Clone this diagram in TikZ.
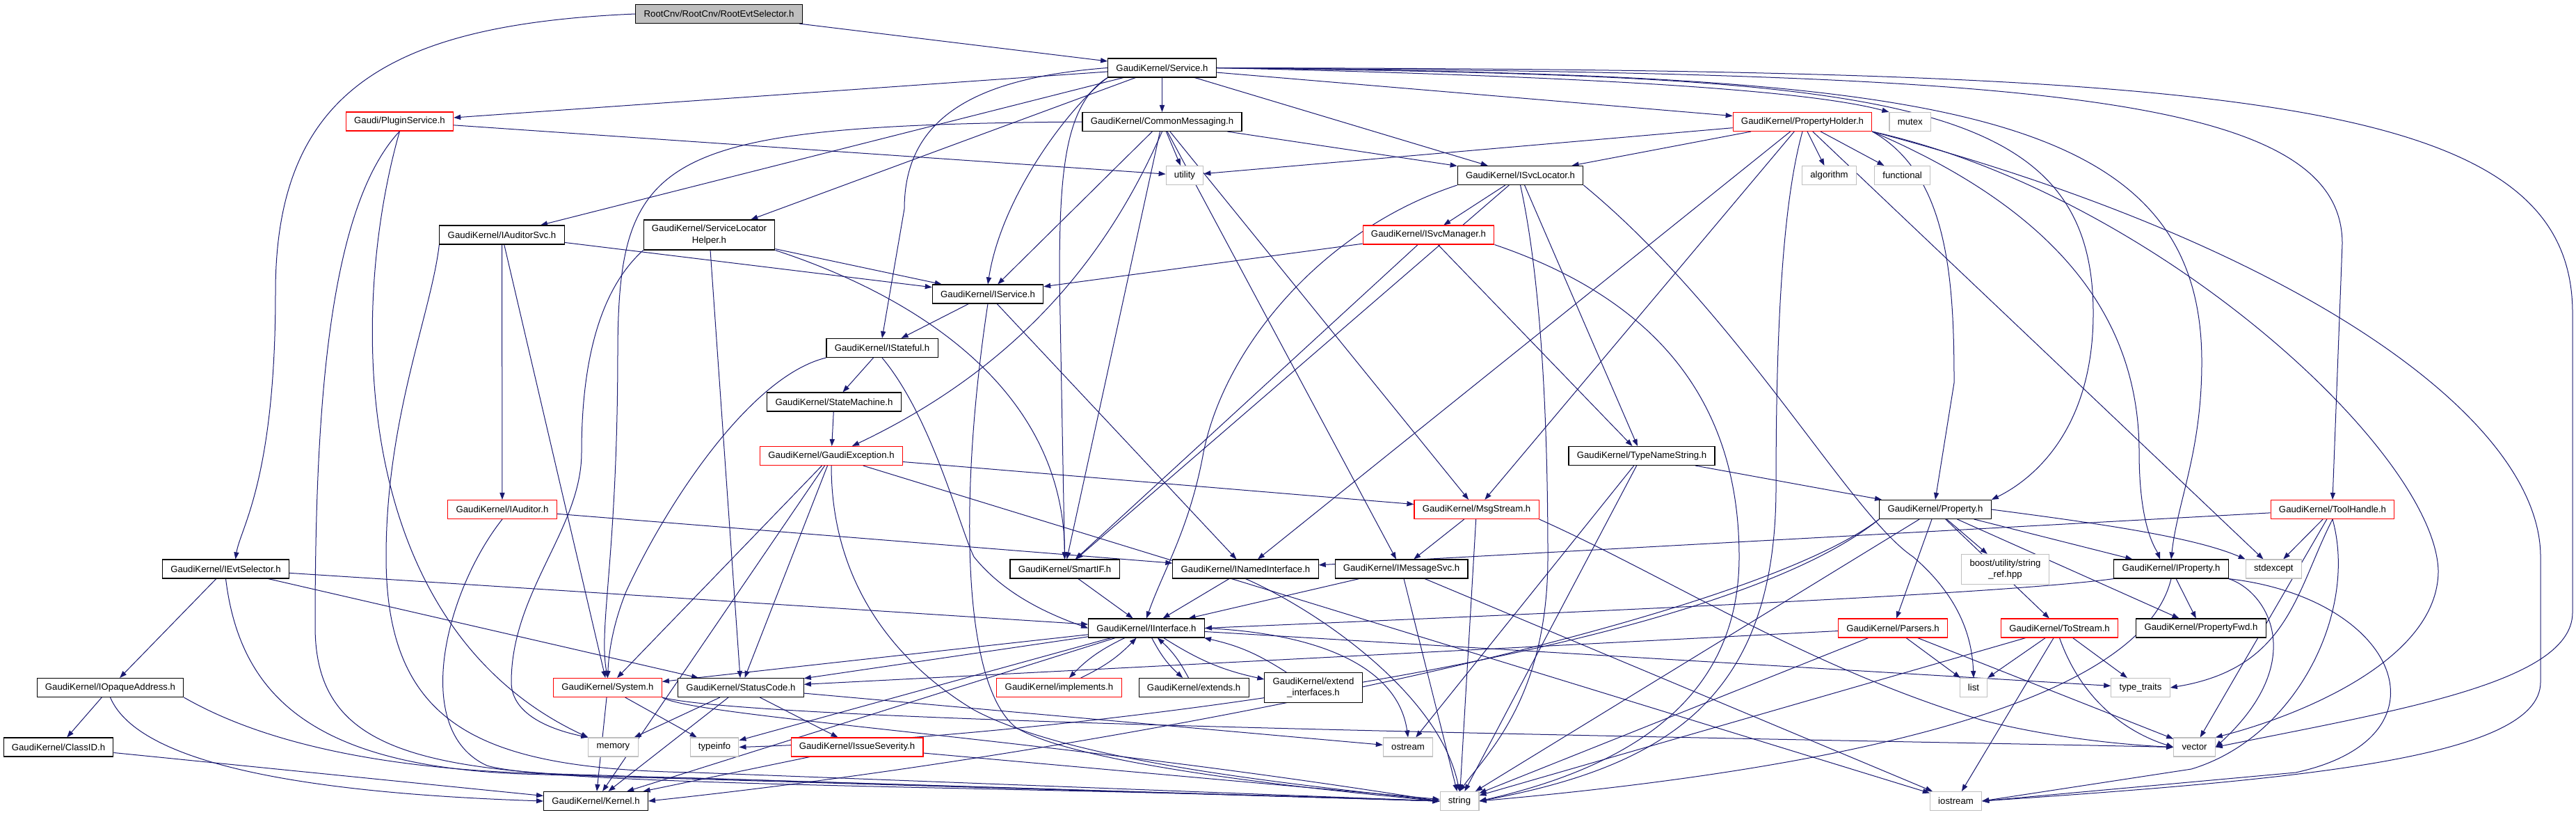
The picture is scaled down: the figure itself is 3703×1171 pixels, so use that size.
\documentclass[tikz,border=0pt]{standalone}
\usepackage{fontspec}
\setmainfont{Liberation Sans}
\usetikzlibrary{arrows.meta,positioning}
\definecolor{navyline}{HTML}{191970}
\definecolor{sysgray}{HTML}{BFBFBF}
\pgfdeclarelayer{back}
\pgfsetlayers{back,main}
\tikzset{
  hdr/.style={rectangle,draw=black,fill=white,line width=0.55pt,
    font=\fontsize{6.6}{8.3}\selectfont,inner xsep=5.9pt,inner ysep=0pt,
    minimum height=13.5pt,align=center},
  hdrred/.style={hdr,draw=red},
  hdrstd/.style={hdr,draw=sysgray},
  hdrtop/.style={hdr,fill=sysgray},
  twoline/.style={minimum height=21.5pt},
  incl/.style={draw=navyline,line width=0.5pt,-{Triangle[length=5pt,width=3.6pt]}}
}
\begin{document}
\begin{tikzpicture}[x=0.5pt,y=-0.5pt]
	\useasboundingbox (0,0) rectangle (3703,1171);
	\node [hdrtop] (rootsel) at (1033.5,20) {RootCnv/RootCnv/RootEvtSelector.h};
	\node [hdr] (service) at (1670.5,97.5) {GaudiKernel/Service.h};
	\node [hdrred] (pluginsvc) at (574.5,174.5) {Gaudi/PluginService.h};
	\node [hdr] (commonmsg) at (1670.5,175) {GaudiKernel/CommonMessaging.h};
	\node [hdrred] (propholder) at (2591,175) {GaudiKernel/PropertyHolder.h};
	\node [hdrstd,anchor=west] (mutex) at ([xshift=12pt]propholder.east) {mutex};
	\node [hdrstd] (utility) at (1703,252) {utility};
	\node [hdr] (svclocator) at (2185.5,252) {GaudiKernel/ISvcLocator.h};
	\node [hdrstd] (algorithm) at (2629.5,252) {algorithm};
	\node [hdrstd,anchor=west] (functional) at ([xshift=12.5pt]algorithm.east) {functional};
	\node [hdr] (auditorsvc) at (721.5,337.5) {GaudiKernel/IAuditorSvc.h};
	\node [hdr,twoline] (locatorhelper) at (1019.5,337.5) {GaudiKernel/ServiceLocator\\Helper.h};
	\node [hdrred] (svcmanager) at (2053.5,337.5) {GaudiKernel/ISvcManager.h};
	\node [hdr] (iservice) at (1420,422.5) {GaudiKernel/IService.h};
	\node [hdr] (stateful) at (1268,500) {GaudiKernel/IStateful.h};
	\node [hdr] (statemachine) at (1199,577.5) {GaudiKernel/StateMachine.h};
	\node [hdrred] (gaudiexc) at (1195,655) {GaudiKernel/GaudiException.h};
	\node [hdr] (typename) at (2360,655) {GaudiKernel/TypeNameString.h};
	\node [hdrred] (auditor) at (722,732) {GaudiKernel/IAuditor.h};
	\node [hdrred] (msgstream) at (2122.5,732) {GaudiKernel/MsgStream.h};
	\node [hdr] (property) at (2782,732) {GaudiKernel/Property.h};
	\node [hdrred] (toolhandle) at (3353,732) {GaudiKernel/ToolHandle.h};
	\node [hdr] (evtselector) at (324.5,817.5) {GaudiKernel/IEvtSelector.h};
	\node [hdr] (smartif) at (1530.5,817.5) {GaudiKernel/SmartIF.h};
	\node [hdr] (namedif) at (1790.5,817.5) {GaudiKernel/INamedInterface.h};
	\node [hdr] (msgsvc) at (2014.5,817.5) {GaudiKernel/IMessageSvc.h};
	\node [hdrstd,twoline] (stringref) at (2882.5,818) {boost/utility/string\\\_ref.hpp};
	\node [hdr] (iproperty) at (3121,817.5) {GaudiKernel/IProperty.h};
	\node [hdrstd,anchor=west] (stdexcept) at ([xshift=12pt]iproperty.east) {stdexcept};
	\node [hdr] (interface) at (1648,902.5) {GaudiKernel/IInterface.h};
	\node [hdrred] (parsers) at (2721,902.5) {GaudiKernel/Parsers.h};
	\node [hdrred] (tostream) at (2960.5,902.5) {GaudiKernel/ToStream.h};
	\node [hdr,anchor=west] (propfwd) at ([xshift=12.5pt]tostream.east) {GaudiKernel/PropertyFwd.h};
	\node [hdr] (opaqueaddr) at (158.5,988) {GaudiKernel/IOpaqueAddress.h};
	\node [hdrred] (system) at (873.5,988) {GaudiKernel/System.h};
	\node [hdr] (statuscode) at (1065,988) {GaudiKernel/StatusCode.h};
	\node [hdrred] (implements) at (1522.5,988) {GaudiKernel/implements.h};
	\node [hdr,anchor=west] (extends) at ([xshift=12pt]implements.east) {GaudiKernel/extends.h};
	\node [hdr,twoline] (extendif) at (1888,988) {GaudiKernel/extend\\\_interfaces.h};
	\node [hdrstd] (list) at (2837,988) {list};
	\node [hdrstd] (typetraits) at (3077,988) {type\_traits};
	\node [hdr] (classid) at (84,1073.5) {GaudiKernel/ClassID.h};
	\node [hdrstd] (memory) at (881.5,1073.5) {memory};
	\node [hdrstd] (typeinfo) at (1027,1073.5) {typeinfo};
	\node [hdrred] (severity) at (1232,1073.5) {GaudiKernel/IssueSeverity.h};
	\node [hdrstd] (ostream) at (2024,1073.5) {ostream};
	\node [hdrstd] (vector) at (3154.5,1073.5) {vector};
	\node [hdr] (kernel) at (856.5,1151) {GaudiKernel/Kernel.h};
	\node [hdrstd] (string) at (2098,1151) {string};
	\node [hdrstd] (iostream) at (2811.5,1151) {iostream};
	\begin{pgfonlayer}{back}
	\draw [incl] (rootsel) -- (service);
	\draw [incl] (rootsel.west) .. controls (560,35) and (396,130) .. (396,420) .. controls (396,690) and (345,760) .. ([xshift=7pt]evtselector.north);
	\draw [incl] (service) -- (pluginsvc);
	\draw [incl] (service) -- (commonmsg);
	\draw [incl] (service) -- (propholder);
	\draw [incl] (service.east) .. controls (2300,110) and (2600,130) .. (mutex.north west);
	\draw [incl] (service) -- (svclocator);
	\draw [incl] (service) -- (auditorsvc);
	\draw [incl] (service) -- (locatorhelper);
	\draw [incl] (service.south west) .. controls (1540,150) and (1440,280) .. (iservice.north);
	\draw [incl] (service.west) .. controls (1400,112) and (1300,170) .. (1300,300) -- (stateful.north);
	\draw [incl] (service.south west) .. controls (1530,150) and (1523,250) .. (1523,400) -- (smartif.north);
	\draw [incl] (service.east) .. controls (2700,110) and (3009,130) .. (3009,450) .. controls (3009,620) and (2920,690) .. (property.north east);
	\draw [incl] (service.east) .. controls (2750,108) and (3165,140) .. (3165,520) .. controls (3165,650) and (3130,720) .. (iproperty.north);
	\draw [incl] (service.east) .. controls (2900,105) and (3367,130) .. (3367,350) -- (toolhandle.north);
	\draw [incl] (service.east) .. controls (3200,100) and (3698,130) .. (3698,450) -- (3698,880) .. controls (3698,980) and (3450,1020) .. (vector.east);
	\draw [incl] (pluginsvc) -- (utility);
	\draw [incl] (pluginsvc.south) .. controls (470,300) and (453,600) .. (453,900) .. controls (453,1080) and (600,1115) .. (1000,1118) -- (string.west);
	\draw [incl] (pluginsvc.south) .. controls (500,450) and (504,900) .. (memory.north west);
	\draw [incl] (commonmsg) -- (utility);
	\draw [incl] (commonmsg) -- (svclocator);
	\draw [incl] (commonmsg) -- (iservice);
	\draw [incl] (commonmsg.south) .. controls (1600,350) and (1480,520) .. ([xshift=15pt]gaudiexc.north);
	\draw [incl] (commonmsg) -- (smartif);
	\draw [incl] (commonmsg) -- (msgsvc);
	\draw [incl] (commonmsg) -- (msgstream);
	\draw [incl] (commonmsg.west) .. controls (950,180) and (890,220) .. (888,500) .. controls (888,800) and (860,900) .. (system.north);
	\draw [incl] (propholder) -- (utility);
	\draw [incl] (propholder) -- (svclocator);
	\draw [incl] (propholder) -- (algorithm);
	\draw [incl] (propholder) -- (functional);
	\draw [incl] (propholder.south east) .. controls (2800,250) and (2809,400) .. (2809,550) -- (property.north);
	\draw [incl] (propholder.south east) .. controls (2950,300) and (3075,450) .. (3075,650) .. controls (3075,760) and (3100,790) .. ([xshift=-8pt]iproperty.north);
	\draw [incl] (propholder) -- (stdexcept);
	\draw [incl] (propholder.south east) .. controls (3100,280) and (3500,650) .. (3505,820) .. controls (3505,950) and (3300,1030) .. (vector.north east);
	\draw [incl] (propholder.south east) .. controls (3300,350) and (3652,600) .. (3652,800) -- (3652,980) .. controls (3652,1090) and (3300,1120) .. (iostream.east);
	\draw [incl] (propholder) -- (msgstream);
	\draw [incl] (propholder) -- (namedif);
	\draw [incl] (propholder.south) .. controls (2560,300) and (2553,500) .. (2553,700) .. controls (2553,1000) and (2400,1100) .. (string.east);
	\draw [incl] (svclocator) -- (svcmanager);
	\draw [incl] (svclocator) -- (typename);
	\draw [incl] (svclocator.south east) .. controls (2500,450) and (2660,740) .. (2750,800) .. controls (2820,860) and (2835,920) .. (list.north);
	\draw [incl] (svclocator.south) .. controls (2215,400) and (2225,600) .. (2225,800) .. controls (2225,1000) and (2140,1080) .. (string.north);
	\draw [incl] (svclocator) -- (smartif);
	\draw [incl] (svclocator.south west) .. controls (1900,330) and (1760,500) .. (1730,650) .. controls (1710,760) and (1672,820) .. (interface.north);
	\draw [incl] (auditorsvc) -- (iservice);
	\draw [incl] (auditorsvc) -- (auditor);
	\draw [incl] (auditorsvc) -- (system);
	\draw [incl] (auditorsvc.south west) .. controls (620,450) and (555,600) .. (555,800) .. controls (555,1050) and (700,1105) .. (1000,1110) -- (string.west);
	\draw [incl] (locatorhelper) -- (iservice);
	\draw [incl] (locatorhelper) -- (statuscode);
	\draw [incl] (locatorhelper.south east) .. controls (1300,420) and (1529,550) .. (smartif.north);
	\draw [incl] (locatorhelper.south west) .. controls (880,400) and (836,480) .. (836,650) .. controls (836,760) and (735,850) .. (735,980) .. controls (735,1030) and (800,1050) .. (memory.north west);
	\draw [incl] (svcmanager) -- (iservice);
	\draw [incl] (svcmanager) -- (typename);
	\draw [incl] (svcmanager.south east) .. controls (2350,420) and (2500,550) .. (2500,800) .. controls (2500,1000) and (2350,1100) .. (string.east);
	\draw [incl] (svcmanager) -- (smartif);
	\draw [incl] (iservice) -- (stateful);
	\draw [incl] (iservice) -- (namedif);
	\draw [incl] (iservice.south) .. controls (1380,700) and (1380,980) .. (1460,1045) .. controls (1550,1100) and (1900,1135) .. (string.west);
	\draw [incl] (stateful) -- (statemachine);
	\draw [incl] (stateful.south) .. controls (1340,600) and (1380,760) .. (1400,800) .. controls (1440,850) and (1500,880) .. (interface.west);
	\draw [incl] (stateful.south west) .. controls (1080,540) and (960,720) .. (900,850) .. controls (880,900) and (875,940) .. (system.north);
	\draw [incl] (statemachine) -- (gaudiexc);
	\draw [incl] (gaudiexc) -- (msgstream);
	\draw [incl] (gaudiexc) -- (system);
	\draw [incl] (gaudiexc) -- (statuscode);
	\draw [incl] (gaudiexc.south) .. controls (1195,850) and (1300,960) .. (1400,1020) .. controls (1550,1100) and (1900,1130) .. (string.west);
	\draw [incl] (gaudiexc) -- (iostream);
	\draw [incl] (gaudiexc) -- (kernel);
	\draw [incl] (typename) -- (property);
	\draw [incl] (typename) -- (ostream);
	\draw [incl] (typename) -- (string);
	\draw [incl] (auditor) -- (namedif);
	\draw [incl] (auditor.south) .. controls (640,850) and (590,1050) .. (700,1100) .. controls (800,1130) and (1500,1130) .. (string.west);
	\draw [incl] (msgstream) -- (msgsvc);
	\draw [incl] (msgstream) -- (string);
	\draw [incl] (msgstream.south east) .. controls (2400,830) and (2600,960) .. (2850,1035) .. controls (2950,1060) and (3050,1070) .. (vector.west);
	\draw [incl] (property) -- (iproperty);
	\draw [incl] (property.east) .. controls (3000,750) and (3150,770) .. (stdexcept.north west);
	\draw [incl] (property) -- (stringref);
	\draw [incl] (property) -- (parsers);
	\draw [incl] (property) -- (tostream);
	\draw [incl] (property) -- (propfwd);
	\draw [incl] (property) -- (string);
	\draw [incl] (property.south west) .. controls (2450,950) and (1500,1060) .. (typeinfo.east);
	\draw [incl] (property.south west) .. controls (2500,900) and (1600,1080) .. (kernel.east);
	\draw [incl] (toolhandle) -- (namedif);
	\draw [incl] (toolhandle) -- (stdexcept);
	\draw [incl] (toolhandle.south) .. controls (3300,850) and (3290,960) .. (typetraits.east);
	\draw [incl] (toolhandle) -- (vector);
	\draw [incl] (toolhandle.south) .. controls (3390,880) and (3300,1060) .. (3150,1105) -- (iostream.east);
	\draw [incl] (evtselector) -- (opaqueaddr);
	\draw [incl] (evtselector) -- (statuscode);
	\draw [incl] (evtselector) -- (interface);
	\draw [incl] (evtselector.south) .. controls (345,1000) and (450,1100) .. (750,1112) -- (string.west);
	\draw [incl] (opaqueaddr) -- (classid);
	\draw [incl] (opaqueaddr.south) .. controls (200,1100) and (450,1140) .. (kernel.west);
	\draw [incl] (opaqueaddr.south east) .. controls (400,1080) and (600,1108) .. (800,1112) -- (string.west);
	\draw [incl] (classid) -- (kernel);
	\draw [incl] (smartif) -- (interface);
	\draw [incl] (namedif) -- (interface);
	\draw [incl] (namedif.south) .. controls (1900,880) and (2070,1000) .. (string.north);
	\draw [incl] (msgsvc) -- (interface);
	\draw [incl] (msgsvc) -- (string);
	\draw [incl] (msgsvc) -- (iostream);
	\draw [incl] (iproperty) -- (propfwd);
	\draw [incl] (iproperty.south west) .. controls (2900,850) and (2500,870) .. (interface.east);
	\draw [incl] (iproperty.south east) .. controls (3260,850) and (3320,950) .. (vector.east);
	\draw [incl] (iproperty.south) .. controls (3080,1000) and (2700,1100) .. (string.east);
	\draw [incl] (iproperty.south east) .. controls (3450,860) and (3530,1060) .. (3300,1110) -- (iostream.east);
	\draw [incl] (interface) -- (system);
	\draw [incl] (interface) -- (statuscode);
	\draw [incl] (interface) -- (kernel);
	\draw [incl] (interface) -- (typeinfo);
	\draw [incl] (interface.east) .. controls (1900,910) and (2010,960) .. (ostream.north);
	\draw [incl] (interface) -- (typetraits);
	\draw [incl] (interface) to [bend right=10] (implements);
	\draw [incl] (implements) to [bend right=10] (interface);
	\draw [incl] (interface) to [bend right=10] (extends);
	\draw [incl] (extends) to [bend right=10] (interface);
	\draw [incl] (interface) to [bend right=10] (extendif);
	\draw [incl] (extendif) to [bend right=10] (interface);
	\draw [incl] (system) -- (kernel);
	\draw [incl] (system) -- (typeinfo);
	\draw [incl] (system.south east) .. controls (1000,1030) and (1500,1060) .. (string.west);
	\draw [incl] (system.south east) .. controls (1100,1040) and (2500,1060) .. (vector.west);
	\draw [incl] (statuscode) -- (memory);
	\draw [incl] (statuscode) -- (kernel);
	\draw [incl] (statuscode) -- (severity);
	\draw [incl] (statuscode) -- (ostream);
	\draw [incl] (severity) -- (kernel);
	\draw [incl] (severity) -- (string);
	\draw [incl] (parsers) -- (statuscode);
	\draw [incl] (parsers) -- (list);
	\draw [incl] (parsers) -- (vector);
	\draw [incl] (parsers) -- (string);
	\draw [incl] (tostream) -- (list);
	\draw [incl] (tostream) -- (typetraits);
	\draw [incl] (tostream.south) .. controls (2990,1000) and (3050,1050) .. (vector.west);
	\draw [incl] (tostream) -- (string);
	\draw [incl] (tostream) -- (iostream);
	\end{pgfonlayer}
\end{tikzpicture}
\end{document}
